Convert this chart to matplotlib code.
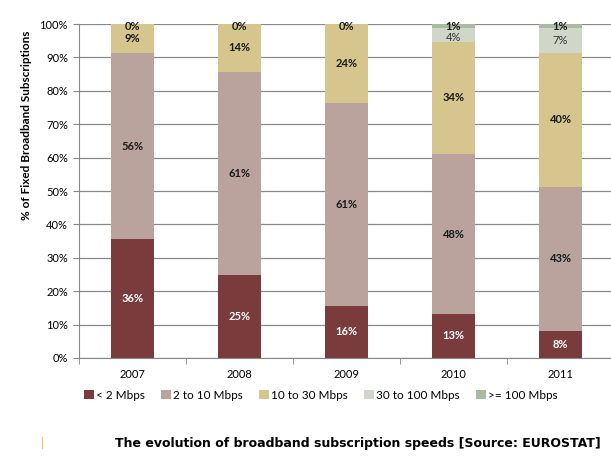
import matplotlib
matplotlib.use("Agg")
import matplotlib.pyplot as plt
import numpy as np

years = ["2007", "2008", "2009", "2010", "2011"]
series_names = ["< 2 Mbps", "2 to 10 Mbps", "10 to 30 Mbps", "30 to 100 Mbps", ">= 100 Mbps"]
lt2 = [35.6, 24.9, 15.6, 13.2, 8.2]
s2_10 = [55.6, 60.8, 60.6, 47.8, 43.1]
s10_30 = [8.8, 14.3, 23.8, 33.7, 40.1]
s30_100 = [0.0, 0.0, 0.0, 4.2, 7.3]
ge100 = [0.0, 0.0, 0.0, 1.1, 1.3]
labels_lt2 = ["36%", "25%", "16%", "13%", "8%"]
labels_2_10 = ["56%", "61%", "61%", "48%", "43%"]
labels_10_30 = ["9%", "14%", "24%", "34%", "40%"]
labels_30_100 = ["", "", "", "4%", "7%"]
labels_ge100 = ["0%", "0%", "0%", "1%", "1%"]
yticks = [0, 10, 20, 30, 40, 50, 60, 70, 80, 90, 100]
ytick_labels = [f"{v}%" for v in yticks]

colors = ["#7A3B3D", "#B9A39C", "#D6C58D", "#D0D7C8", "#ABB9A2"]
label_colors = ["white", "#1a1a1a", "#1a1a1a", "#333333", "#1a1a1a"]
label_weights = ["bold", "bold", "bold", "normal", "bold"]

plt.rcParams['font.family'] = ['Lato', 'DejaVu Sans']

fig = plt.figure(figsize=(6.11, 4.61), dpi=100)
ax = fig.add_axes([79/611, 1-358/461, 535/611, 334/461])

x = np.arange(len(years))
data = [lt2, s2_10, s10_30, s30_100, ge100]
labs = [labels_lt2, labels_2_10, labels_10_30, labels_30_100, labels_ge100]
bottom = np.zeros(len(years))
for i, (vals, name) in enumerate(zip(data, series_names)):
    vals = np.array(vals)
    ax.bar(x, vals, width=0.4, bottom=bottom, color=colors[i], label=name, zorder=2)
    for j in range(len(years)):
        if labs[i][j]:
            yc = bottom[j] + vals[j] / 2
            if i == 4:
                yc = 99.4
            if i == 3:
                yc = min(yc, 96.0) if vals[j] < 5 else yc
            ax.text(x[j], yc, labs[i][j], ha='center', va='center', fontsize=8,
                    color=label_colors[i], fontweight=label_weights[i], zorder=3)
    bottom += vals

ax.set_xlim(-0.5, len(years) - 0.5)
ax.set_ylim(0, 100)
ax.set_yticks(yticks)
ax.set_yticklabels(ytick_labels, fontsize=8)
ax.set_xticks(x)
ax.set_xticklabels(years, fontsize=8)
ax.set_xticks(np.arange(-0.5, len(years), 1.0), minor=True)
ax.tick_params(axis='x', which='major', length=0, pad=8)
ax.tick_params(axis='x', which='minor', length=4, color='#888888', direction='out')
ax.tick_params(axis='y', length=4, color='#888888', direction='out', pad=4)
ax.yaxis.grid(True, color='#8a8a8a', linewidth=0.9, zorder=0)
ax.set_axisbelow(True)
for s in ['top', 'right']:
    ax.spines[s].set_visible(False)
for s in ['left', 'bottom']:
    ax.spines[s].set_color('#888888')
ax.set_ylabel("% of Fixed Broadband Subscriptions", fontsize=8.5, fontweight='bold')
ax.yaxis.set_label_coords((32-79)/535, (358-125)/334)

handles, lbls = ax.get_legend_handles_labels()
fig.legend(handles, lbls, loc='center', bbox_to_anchor=(321/611, 1-395/461), ncol=5,
           frameon=False, fontsize=8.5, handlelength=0.8, handleheight=0.8,
           handletextpad=0.2, columnspacing=1.4)

fig.text(358/611, 1-443/461, "The evolution of broadband subscription speeds [Source: EUROSTAT]",
         ha='center', va='center', fontsize=9, fontweight='bold', family=['DejaVu Sans'])
fig.add_artist(plt.Line2D([42/611, 42/611], [1-448/461, 1-437/461], color='#E8C860', linewidth=0.8))

fig.savefig("out.png", dpi=100)
